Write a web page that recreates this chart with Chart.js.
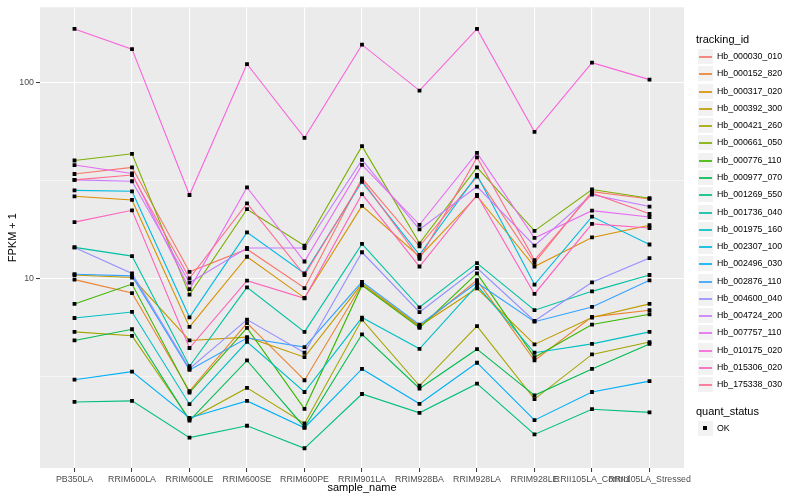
<!DOCTYPE html>
<html>
<head>
<meta charset="utf-8">
<script src="https://cdn.jsdelivr.net/npm/chart.js@4/dist/chart.umd.min.js"></script>
<style>
  body { margin: 0; background: #fff; font-family: "Liberation Sans", Arial, sans-serif; }
  #wrap { position: relative; width: 800px; height: 500px; }
  #legend { position: absolute; left: 696px; top: 0; width: 104px; height: 500px; }
  .ttl { position: absolute; left: 0; font-size: 11px; color: #000; height: 17px; line-height: 17px; white-space: nowrap; }
  .row { position: absolute; left: 1px; height: 17px; width: 103px; }
  .key { position: absolute; left: 0; top: 0; width: 17px; height: 17px; background: #F2F2F2; box-sizing: border-box; border: 1px solid #fff; }
  .key i { position: absolute; left: 1px; top: 7px; width: 13px; height: 2px; opacity: 0.85; }
  .key b { position: absolute; left: 5px; top: 5px; width: 4px; height: 4px; background: #000; }
  .lab { position: absolute; left: 20px; top: 0; line-height: 17px; font-size: 8.8px; color: #000; white-space: nowrap; }
</style>
</head>
<body>
<div id="wrap">
  <canvas id="chart" width="800" height="500"></canvas>
  <div id="legend"></div>
</div>
<script>
// Kategorien und Werte (FPKM + 1)
const categories = ['PB350LA', 'RRIM600LA', 'RRIM600LE', 'RRIM600SE', 'RRIM600PE', 'RRIM901LA',
    'RRIM928BA', 'RRIM928LA', 'RRIM928LE', 'RRII105LA_Control', 'RRII105LA_Stressed'];

const trackingIds = ['Hb_000030_010', 'Hb_000152_820', 'Hb_000317_020', 'Hb_000392_300', 'Hb_000421_260',
    'Hb_000661_050', 'Hb_000776_110', 'Hb_000977_070', 'Hb_001269_550', 'Hb_001736_040',
    'Hb_001975_160', 'Hb_002307_100', 'Hb_002496_030', 'Hb_002876_110', 'Hb_004600_040',
    'Hb_004724_200', 'Hb_007757_110', 'Hb_010175_020', 'Hb_015306_020', 'Hb_175338_030'];

const hb_000030_010 = [34.2, 37.0, 10.8, 14.1, 8.92, 32.5, 14.6, 33.2, 12.0, 27.8, 25.5];
const hb_000152_820 = [9.85, 8.41, 2.65, 5.9, 3.01, 9.3, 5.65, 9.8, 3.8, 6.35, 6.87];
const hb_000317_020 = [26.3, 25.2, 5.64, 12.9, 7.95, 23.5, 12.9, 26.4, 11.5, 16.2, 18.7];
const hb_000392_300 = [10.4, 10.1, 4.81, 5.0, 3.95, 9.4, 5.7, 8.9, 4.59, 6.3, 7.4];
const hb_000421_260 = [5.32, 5.08, 1.90, 2.75, 1.81, 6.15, 2.82, 5.69, 2.41, 4.08, 4.72];
const hb_000661_050 = [40.1, 43.4, 8.25, 22.6, 14.7, 47.5, 15.1, 37.0, 17.5, 28.5, 25.7];
const hb_000776_110 = [7.40, 9.35, 2.60, 5.58, 2.15, 9.2, 5.58, 10.6, 3.95, 5.8, 6.55];
const hb_000977_070 = [4.81, 5.49, 1.87, 3.80, 1.73, 5.17, 2.73, 4.34, 2.52, 3.44, 4.62];
const hb_001269_550 = [2.33, 2.36, 1.53, 1.76, 1.35, 2.56, 2.05, 2.89, 1.59, 2.14, 2.06];
const hb_001736_040 = [14.4, 13.0, 3.55, 8.99, 5.32, 15.0, 7.11, 11.97, 6.87, 8.58, 10.4];
const hb_001975_160 = [6.27, 6.73, 2.27, 4.73, 2.62, 6.3, 4.36, 9.2, 4.16, 4.62, 5.32];
const hb_002307_100 = [28.2, 27.9, 6.32, 17.2, 10.6, 31.2, 13.2, 33.8, 9.29, 20.7, 14.9];
const hb_002496_030 = [3.03, 3.33, 1.93, 2.36, 1.72, 3.44, 2.28, 3.70, 1.88, 2.62, 2.98];
const hb_002876_110 = [10.5, 10.3, 3.40, 4.95, 4.45, 9.6, 5.8, 9.5, 6.0, 7.14, 9.77];
const hb_004600_040 = [14.4, 10.6, 3.45, 6.15, 4.16, 13.6, 6.71, 11.3, 6.05, 9.54, 12.7];
const hb_004724_200 = [31.9, 31.4, 9.5, 14.3, 14.3, 40.4, 17.8, 29.5, 14.7, 26.8, 23.3];
const hb_007757_110 = [38.0, 34.4, 8.8, 29.2, 12.2, 38.1, 18.8, 43.9, 16.1, 22.2, 20.6];
const hb_010175_020 = [189, 149, 26.7, 125, 52.4, 157, 91.4, 189, 56.2, 127, 104];
const hb_015306_020 = [19.4, 22.3, 4.40, 9.73, 7.9, 27.0, 11.5, 26.7, 8.32, 19.0, 18.1];
const hb_175338_030 = [31.9, 33.8, 10.0, 24.2, 10.4, 31.8, 12.6, 41.6, 12.4, 27.3, 21.4];

const seriesValues = [hb_000030_010, hb_000152_820, hb_000317_020, hb_000392_300, hb_000421_260,
    hb_000661_050, hb_000776_110, hb_000977_070, hb_001269_550, hb_001736_040,
    hb_001975_160, hb_002307_100, hb_002496_030, hb_002876_110, hb_004600_040,
    hb_004724_200, hb_007757_110, hb_010175_020, hb_015306_020, hb_175338_030];

const yTickValues = [10, 100];
const quantStatus = ['OK'];

// ggplot Farbpalette (hue_pal, 20 Farben)
const hueColors = ['#F8766D', '#EA8331', '#D89000', '#C09B00', '#A3A500', '#7CAE00', '#39B600', '#00BB4E',
    '#00BF7D', '#00C1A3', '#00BFC4', '#00BAE0', '#00B0F6', '#35A2FF', '#9590FF', '#C77CFF',
    '#E76BF3', '#FA62DB', '#FF62BC', '#FF6C91'];

const fontFamily = '"Liberation Sans", Arial, sans-serif';
Chart.defaults.font.family = fontFamily;

// minor gridlines halfway between decades (wie ggplot)
const yGridValues = [];
yTickValues.forEach(v => { yGridValues.push(v / Math.sqrt(10)); yGridValues.push(v); });
const isMajor = v => yTickValues.includes(v);

const lineSets = seriesValues.map((vals, i) => ({
    type: 'line',
    label: trackingIds[i],
    data: vals.map((v, j) => ({ x: j, y: v })),
    borderColor: hueColors[i],
    borderWidth: 1.1,
    pointRadius: 0,
    fill: false,
    tension: 0,
    order: seriesValues.length - i
}));

const pointSet = {
    type: 'scatter',
    label: quantStatus[0],
    data: seriesValues.flatMap(vals => vals.map((v, j) => ({ x: j, y: v }))),
    pointStyle: 'rect',
    pointRadius: 2.7,
    pointBackgroundColor: '#000',
    pointBorderWidth: 0,
    order: -1
};

// grauer Panel Hintergrund
const panelBg = {
    id: 'panelBg',
    beforeDraw(chart) {
        const { ctx, chartArea: a } = chart;
        ctx.save();
        ctx.fillStyle = '#EBEBEB';
        ctx.fillRect(a.left, a.top, a.right - a.left, a.bottom - a.top);
        ctx.restore();
    }
};

new Chart(document.getElementById('chart').getContext('2d'), {
    type: 'line',
    data: { datasets: [...lineSets, pointSet] },
    options: {
        responsive: false,
        animation: false,
        layout: { padding: { top: 5, right: 116, left: 0, bottom: 0 } },
        plugins: { legend: { display: false }, tooltip: { enabled: false } },
        scales: {
            x: {
                type: 'linear',
                min: -0.6,
                max: categories.length - 0.4,
                afterBuildTicks: s => { s.ticks = categories.map((c, i) => ({ value: i })); },
                afterFit: s => { s.height = 32; },
                border: { display: false },
                grid: { color: '#fff', lineWidth: 1.1, tickColor: '#333', tickLength: 4, tickWidth: 1 },
                ticks: {
                    autoSkip: false, maxRotation: 0, minRotation: 0, padding: 2,
                    color: '#4D4D4D', font: { size: 8.8 },
                    callback: v => categories[v]
                },
                title: { display: true, text: 'sample_name', color: '#000', font: { size: 11 }, padding: { top: 0, bottom: 5.4 } }
            },
            y: {
                type: 'logarithmic',
                min: 1.07,
                max: 244,
                afterBuildTicks: s => { s.ticks = yGridValues.map(v => ({ value: v })); },
                afterFit: s => { s.width = 40; },
                border: { display: false },
                grid: {
                    color: '#fff',
                    lineWidth: c => (c.tick && isMajor(c.tick.value)) ? 1.1 : 0.55,
                    tickColor: c => (c.tick && isMajor(c.tick.value)) ? '#333' : 'rgba(0,0,0,0)',
                    tickLength: 4,
                    tickWidth: 1
                },
                ticks: {
                    autoSkip: false, padding: 2, color: '#4D4D4D', font: { size: 8.8 },
                    callback: v => isMajor(v) ? String(v) : ''
                },
                title: { display: true, text: 'FPKM + 1', color: '#000', font: { size: 11 }, padding: { top: 6.4, bottom: 0 } }
            }
        }
    },
    plugins: [panelBg]
});

// Legende im ggplot Stil, Zeilen auf ganze Pixel gesetzt
const legend = document.getElementById('legend');
const rowStep = 17.28;
let html = '<div class="ttl" style="top:31px">tracking_id</div>';
trackingIds.forEach((id, i) => {
    const top = Math.round(48 + i * rowStep);
    html += `<div class="row" style="top:${top}px"><div class="key"><i style="background:${hueColors[i]}"></i></div><span class="lab">${id}</span></div>`;
});
html += '<div class="ttl" style="top:403px">quant_status</div>';
quantStatus.forEach((q, i) => {
    const top = Math.round(420 + i * rowStep);
    html += `<div class="row" style="top:${top}px"><div class="key"><b></b></div><span class="lab">${q}</span></div>`;
});
legend.innerHTML = html;
</script>
</body>
</html>
